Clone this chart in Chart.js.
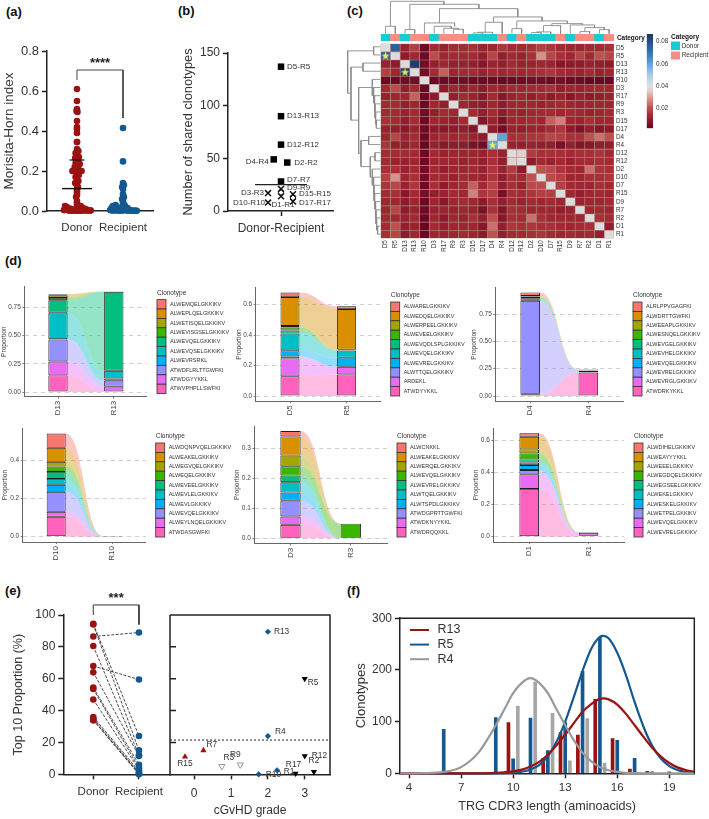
<!DOCTYPE html>
<html>
<head>
<meta charset="utf-8">
<title>TRG clonotype sharing between donors and recipients</title>
<script src="https://cdn.jsdelivr.net/npm/chart.js@4/dist/chart.umd.min.js"></script>
<style>
  html, body { margin: 0; padding: 0; background: #fff; }
  #page { position: relative; width: 709px; height: 819px; overflow: hidden; }
  canvas { position: absolute; }
  .tag { position: absolute; font: bold 13px 'Liberation Sans', Arial, sans-serif; color: #111; line-height: 14px; }
</style>
</head>
<body>
<div id="page">
  <div class="tag" style="left:6px;top:5px">(a)</div>
  <div class="tag" style="left:178px;top:4px">(b)</div>
  <div class="tag" style="left:347px;top:4px">(c)</div>
  <div class="tag" style="left:5px;top:254px">(d)</div>
  <div class="tag" style="left:5px;top:584px">(e)</div>
  <div class="tag" style="left:347px;top:584px">(f)</div>
</div>
<script>
/* ---------- panel (a): Morisita-Horn index ---------- */
const mhCategories = ['Donor', 'Recipient'];
const mhDonorX = [1,1,1,.99,1.01,1,1,1,1,1,1,1,1.03,.97,1,1.04,.96,1,1.03,.97,1.06,1,.95,1.03,.97,.90,1.10,1,1.04,.97,1,1.03,.96,1,1.02,1,1,1,1,.98,1,1,1,
  .72,.74,.76,.78,.72,.80,.84,.86,.88,.92,.94,.97,1.02,1.05,1.08,1.08,1.1,1.14,1.16,1.18,1.2,1.22,1.25,1.28,1.3,.82,.9,1.12,1.04,1.0];
const mhDonorY = [.61,.55,.51,.50,.495,.45,.42,.41,.39,.345,.345,.31,.30,.29,.28,.27,.265,.26,.25,.24,.235,.23,.22,.21,.205,.20,.20,.19,.18,.17,.16,.15,.14,.13,.12,.11,.10,.09,.08,.07,.05,.04,.03,
  .005,.025,.015,.02,.005,.005,.012,.002,.01,.003,.005,.002,.003,.01,.025,.002,.018,.006,.012,.002,.008,.003,.004,.003,.002,.002,.002,.002,.002,.002];
const mhRecipientX = [2,2,2,2.02,1.98,2,2,2.02,1.98,2,2,2.03,
  1.72,1.75,1.78,1.8,1.84,1.86,1.9,1.93,1.96,2.04,2.06,2.1,2.13,2.16,2.2,2.24,2.27,2.3,1.76,1.82,1.88,1.94,2.0,2.0,2.08,2.14];
const mhRecipientY = [.415,.248,.14,.13,.12,.11,.085,.07,.06,.05,.04,.03,
  .005,.015,.025,.02,.03,.012,.005,.002,.018,.025,.008,.015,.004,.003,.002,.001,.002,.001,.002,.002,.002,.002,.002,.012,.002,.002];
const mhMean = 0.112, mhSpread = 0.255;

/* ---------- panel (b): shared clonotypes per pair ---------- */
const sharedHighPairs = ['D5-R5','D13-R13','D12-R12','D4-R4','D2-R2','D7-R7'];
const sharedHighX = [1,1,1,.93,1.06,1];
const sharedHighY = [137,90,63,49,46,28];
const sharedLowPairs = ['D9-R9','D3-R3','D1-R1','D15-R15','D17-R17','D10-R10'];
const sharedLowX = [1,.875,1,1.115,1.115,.875];
const sharedLowY = [21,17,14,16,9,8];
const sharedOpenX = [1,1.115];
const sharedOpenY = [17.5,12.5];
const sharedMean = 25;

/* ---------- panel (c): clustered overlap heatmap ---------- */
const heatLabels = ['D5','R5','D13','R13','R10','D3','R17','R9','R3','D15','D17','D4','R4','D12','R12','D2','D10','D7','R15','D9','R7','R2','D1','R1'];
const heatGroups = ['D','R','D','R','R','D','R','R','R','D','D','D','R','D','R','D','D','D','R','D','R','R','D','R'];
/* upper triangle per row, in units of 0.001 */
const heatUpper = [
  [75,11,17,3,13,11,13,13,14,11,12,15,13,13,14,17,15,13,12,12,13,13,14],
  [9,12,3,19,12,13,13,13,10,18,10,13,11,14,28,18,14,12,18,13,20,18],
  [85,4,10,12,10,11,10,8,11,10,13,11,11,12,11,8,9,9,11,10,9],
  [4,13,22,12,13,13,11,13,12,13,12,13,14,15,13,12,11,13,11,12],
  [2,3,3,4,3,3,3,2,3,3,4,4,3,5,3,3,2,2,2],
  [9,12,10,12,9,12,11,13,12,13,13,14,10,12,11,12,13,12],
  [10,13,11,8,13,8,11,12,10,12,9,11,8,11,9,10,11],
  [12,10,9,12,9,12,12,12,11,12,13,12,11,12,12,12],
  [13,10,13,9,12,11,12,13,13,12,13,12,11,12,13],
  [7,11,6,12,12,13,12,22,26,12,11,14,12,12],
  [9,4,11,10,11,11,13,15,9,6,10,8,9],
  [60,14,14,15,15,18,17,14,14,20,24,20],
  [11,10,11,10,10,5,10,7,8,10,10],
  [36,16,14,14,14,13,14,14,15,13],
  [9,13,11,13,11,13,13,14,13],
  [20,19,15,13,12,24,15,14],
  [19,17,12,12,14,14,15],
  [17,13,12,12,14,13],
  [12,10,12,13,12],
  [11,12,12,13],
  [12,13,12],
  [14,13],
  [10]
];
const heatTicks = [0.02,0.04,0.06,0.08];
const heatStarCols = ['D5','D13','D4'];
const heatStarRows = [1,3,12];
/* dendrogram merges: first child position, its height, second child position, its height, merge height */
const topMerges = [
  [.5,0,1.5,0,22],[2.5,0,3.5,0,12],[7.5,0,8.5,0,13],[6.5,0,8,13,16],[5.5,0,7.25,16,22],[4.5,0,7.6,22,32],
  [9.5,0,10.5,0,2],[10,2,11.5,0,4],[10.75,4,12.5,0,34],[13.5,0,14.5,0,15],[15.5,0,16.5,0,3],[16,3,17.5,0,5],
  [16.75,5,18.5,0,24],[20.5,0,21.5,0,6],[22.5,0,23.5,0,12],[21,6,23,12,18],[19.5,0,22,18,26],[17.6,24,20.75,26,30],
  [14,15,19.2,30,38],[11.6,34,16.6,38,50],[6.05,32,14.1,50,75],[3,12,10.1,75,88],[1,22,6.5,88,97]
];
const sideMerges = [
  [.5,0,1.5,0,20],[2.5,0,3.5,0,52],[9.5,0,10.5,0,12],[8.5,0,10,12,14],[7.5,0,9.25,14,16],[6.5,0,8.4,16,18],
  [5.5,0,7.4,18,20],[4.5,0,6.5,20,24],[22.5,0,23.5,0,8],[21.5,0,23,8,11],[20.5,0,22.25,11,13],[19.5,0,21.4,13,15],
  [18.5,0,20.4,15,17],[17.5,0,19.4,17,19],[16.5,0,18.5,19,21],[15.5,0,17.5,21,24],[13.5,0,14.5,0,16],[14,16,16.5,24,30],
  [11.5,0,12.5,0,35],[12,35,15.2,30,58],[5.5,24,13.6,58,65],[3,52,9.5,65,88],[1,20,6.2,88,98]
];

/* ---------- panel (d): top clonotypes, listed top of stack first ---------- */
const clonotypesD13 = ['ALWEMQELGKKIKV','ALWEPLQELGKKIKV','ALWETISQELGKKIKV','ALWEVISGSELGKKIKV','ALWEVQELGKKIKV','ALWEVQSELGKKIKV','ALWEVRSRKL','ATWDFLRLTTGWFKI','ATWDGYYKKL','ATWVPHPLLSWFKI'];
const valuesD13 = [.005,.01,.02,.02,.11,.235,.003,.195,.123,.147];
const valuesR13 = [0,.002,0,0,.70,.068,.02,.053,.047,0];
const clonotypesD5 = ['ALWARELGKKIKV','ALWEDQELGKKIKV','ALWERPEELGKKIKV','ALWEVEELGKKIKV','ALWEVQDLSPLGKKIKV','ALWEVQELGKKIKV','ALWEVRELGKKIKV','ALWTTQELGKKIKV','ARDEKL','ATWDYYKKL'];
const valuesD5 = [.03,.19,.01,.02,.02,.11,.04,.013,.118,.129];
const valuesR5 = [.018,.267,.002,.002,.002,.046,.06,0,.05,.142];
const clonotypesD4 = ['ALRLPPVGAGFKI','ALWDRTTGWFKI','ALWEEAPLGKKIKV','ALWESNQELGKKIKV','ALWEVGELGKKIKV','ALWEVHELGKKIKV','ALWEVQELGKKIKV','ALWEVRELGKKIKV','ALWEVRGLGKKIKV','ATWDRKYKKL'];
const valuesD4 = [.033,.005,.005,.01,.01,.01,.005,.85,.005,.015];
const valuesR4 = [.002,.002,.002,.002,.002,.002,.002,.015,.002,.213];
const clonotypesD10 = ['ALWDQNPVQELGKKIKV','ALWEAKELGKKIKV','ALWEGVQELGKKIKV','ALWEQELGKKIKV','ALWEVEELGKKIKV','ALWEVLELGKKIKV','ALWEVLGKKIKV','ALWEVQELGKKIKV','ALWEYLNQELGKKIKV','ATWDASGWFKI'];
const valuesD10 = [.075,.074,.025,.028,.037,.031,.037,.105,.026,.105];
const valuesR10 = [.0004,.0004,.0004,.0004,.0004,.0004,.0004,.0004,.0004,.0004];
const clonotypesD3 = ['ALWCNKKL','ALWEAKELGKKIKV','ALWERQELGKKIKV','ALWEVQELGKKIKV','ALWEVRELGKKIKV','ALWTQELGKKIKV','ALWTSPDLGKKIKV','ATWDGPRTTGWFKI','ATWDKNYYKKL','ATWDRQQKKL'];
const valuesD3 = [.018,.064,.036,.031,.022,.035,.027,.053,.028,.045];
const valuesR3 = [0,0,0,.049,0,0,0,0,0,0];
const clonotypesD1 = ['ALWDIHELGKKIKV','ALWEAYYYKKL','ALWEEELGKKIKV','ALWEGDQELGKKIKV','ALWEGSEELGKKIKV','ALWEKELGKKIKV','ALWESKELGKKIKV','ALWETPELGKKIKV','ALWEVQELGKKIKV','ALWEVRELGKKIKV'];
const valuesD1 = [.021,.079,.025,.037,.02,.015,.031,.027,.091,.297];
const valuesR1 = [.0005,.0005,.0005,.0005,.0005,.0005,.001,.002,.018,.006];

/* ---------- panel (e): top-10 proportion ---------- */
const topCategories = ['Donor', 'Recipient'];
const topDonor = [94.5,94,86.5,80.5,68,64,54.5,53.5,47,36,35,34,34];
const topRecipient = [24,15,89,12,59.5,11.5,6,4,3,2,1,.5,0];
const gradeLabelsBlue = ['R13','R4','R1','R10'];
const gradeBlueX = [2,2,2.25,1.75];
const gradeBlueY = [89.5,24,2.5,0];
const gradeLabelsBlack = ['R5','R12','R2','R17'];
const gradeBlackX = [3,3,3.25,2.75];
const gradeBlackY = [60,11.5,1.5,.5];
const gradeLabelsRed = ['R15','R7'];
const gradeRedX = [-.25,.25];
const gradeRedY = [11,15];
const gradeLabelsGray = ['R3','R9'];
const gradeGrayX = [.75,1.25];
const gradeGrayY = [5,6];
const gradeThreshold = 21.5;

/* ---------- panel (f): CDR3 length spectra ---------- */
const spectrumNames = ['R13','R5','R4'];
const lengthsR13 = [9.73,11.73,12.73,13.73,14.73,15.73,16.73,17.73];
const countsR13 = [98,29,79,74,143,67,8,4];
const lengthsR5 = [6,9,10,11,12,13,14,15,16,17,18,19];
const countsR5 = [85,108,28,107,44,98,197,263,64,29,3,3];
const lengthsR4 = [10.27,11.27,12.27,13.27,14.27,15.27];
const countsR4 = [130,177,116,24,106,20];
const curveLengths = [3.5,5,6,7,8,9,9.5,10,10.5,11,11.5,12,12.5,13,13.5,14,14.5,15,15.2,15.5,16,16.5,17,17.5,18,18.5,19,19.5,20,20.44];
const curveR13 = [0,0,0,0,0,1,2,3.7,7,13,22,36,54,75,97,119,134,144,145,143,133,115,93,71,50,33,20,11,6,3];
const curveR5 = [0,0,0,0,0,0,.3,1.1,3,7.5,16,33,61,100,148,198,241,264,266,261,233,190,138,91,54,29,14,6,2.5,1];
const curveR4 = [0,.3,2.6,12,40,93,124,155,175,184,175,155,124,93,64,40,23,12,9,6,2.6,1,.4,0,0,0,0,0,0,0];

/* ---------- shared helpers ---------- */
const FONT = "'Liberation Sans', Arial, sans-serif";
const RED = '#9c1212', BLUE = '#14588f', INK = '#222';
const HUES = ['#F8766D','#D89000','#A3A500','#39B600','#00BF7D','#00BFC4','#00B0F6','#9590FF','#E76BF3','#FF62BC'];
const page = document.getElementById('page');
const zip = (xs, ys) => xs.map((x, i) => ({ x, y: ys[i] }));

/* hooks: under and scaled draw in scale pixels, over draws in page pixels */
function makeChart(cv, plot, config, hooks) {
  const c = document.createElement('canvas');
  c.width = cv.w; c.height = cv.h;
  c.style.left = cv.x + 'px'; c.style.top = cv.y + 'px';
  c.style.width = cv.w + 'px'; c.style.height = cv.h + 'px';
  page.appendChild(c);
  const sides = { left: false, right: false, bottom: false };
  for (const [id, s] of Object.entries(config.options.scales)) {
    if (s.display === false) continue;
    const side = s.position || (id.startsWith('x') ? 'bottom' : 'left');
    sides[side] = true;
    if (side === 'left') s.afterFit = a => { a.width = plot.l - cv.x; };
    if (side === 'right') s.afterFit = a => { a.width = cv.x + cv.w - plot.r; };
    if (side === 'bottom') s.afterFit = a => { a.height = cv.y + cv.h - plot.b; };
  }
  config.options = Object.assign({
    responsive: false, animation: false, events: [],
    layout: { padding: {
      left: sides.left ? 0 : plot.l - cv.x,
      right: sides.right ? 0 : cv.x + cv.w - plot.r,
      top: plot.t - cv.y,
      bottom: sides.bottom ? 0 : cv.y + cv.h - plot.b
    } }
  }, config.options);
  config.options.plugins = { legend: { display: false }, tooltip: { enabled: false } };
  hooks = hooks || {};
  config.plugins = [{
    id: 'pageLayer',
    beforeDatasetsDraw(chart) { if (hooks.under) hooks.under(chart.ctx, chart); },
    afterDraw(chart) {
      const ctx = chart.ctx;
      if (hooks.scaled) hooks.scaled(ctx, chart);
      if (hooks.over) { ctx.save(); ctx.translate(-cv.x, -cv.y); hooks.over(ctx, chart); ctx.restore(); }
    }
  }];
  return new Chart(c, config);
}

function axisOf(o) {
  const color = o.color || INK, bw = o.bw === undefined ? 1.5 : o.bw;
  const s = {
    type: 'linear', min: o.min, max: o.max, offset: false, reverse: !!o.reverse,
    grid: {
      offset: false, drawOnChartArea: !!o.gridColor, color: o.gridColor || color,
      drawTicks: o.tick !== 0, tickLength: o.tick === undefined ? 5 : o.tick,
      tickColor: color, tickWidth: o.tw || bw
    },
    border: { display: true, color, width: bw, dash: o.dash },
    ticks: {
      font: { family: FONT, size: o.size || 12 }, color: o.textColor || '#333',
      padding: o.pad === undefined ? 3 : o.pad, autoSkip: false,
      minRotation: o.rot || 0, maxRotation: o.rot || 0,
      callback: v => (o.fmt ? o.fmt(v) : v)
    },
    afterBuildTicks: a => { a.ticks = (o.ticks || []).map(v => ({ value: v })); }
  };
  if (o.position) s.position = o.position;
  if (o.title) s.title = {
    display: true, text: o.title, color: o.titleColor || '#333',
    font: { family: FONT, size: o.titleSize || 12.5 },
    padding: { top: o.titlePad || 0, bottom: o.titlePad || 0 }
  };
  return s;
}

function text(ctx, str, x, y, size, opts) {
  opts = opts || {};
  ctx.font = (opts.bold ? 'bold ' : '') + size + 'px ' + FONT;
  ctx.fillStyle = opts.color || '#333';
  ctx.textAlign = opts.align || 'left';
  ctx.textBaseline = 'middle';
  ctx.fillText(str, x, y);
}

function notes(ctx, chart, items, size) {
  const sx = chart.scales.x, sy = chart.scales.y;
  items.forEach(n => text(ctx, n.t, sx.getPixelForValue(n.x) + (n.dx || 0), sy.getPixelForValue(n.y) + (n.dy || 0), size, { align: n.align }));
}

function frame(ctx, chart, lw) {
  const a = chart.chartArea;
  ctx.strokeStyle = INK; ctx.lineWidth = lw;
  ctx.beginPath();
  ctx.moveTo(a.left, a.top); ctx.lineTo(a.right, a.top); ctx.lineTo(a.right, a.bottom);
  ctx.stroke();
}

const guide = (points, color, width, dash) => ({
  type: 'scatter', data: points, showLine: true, pointRadius: 0, clip: false,
  borderColor: color || INK, borderWidth: width || 1.2, borderDash: dash || [], order: -2
});

/* ---------- (a) ---------- */
makeChart({ x: 0, y: 35, w: 170, h: 210 }, { l: 47, r: 153, t: 51, b: 211 }, {
  type: 'scatter',
  data: { datasets: [
    guide([{x:1,y:.655},{x:1,y:.705},{x:2,y:.705},{x:2,y:.465}], '#444', 1),
    guide([{x:.674,y:mhMean},{x:1.326,y:mhMean}], '#111', 1.4),
    guide([{x:.837,y:mhSpread},{x:1.163,y:mhSpread}], '#111', 1.2),
    { data: zip(mhDonorX, mhDonorY), backgroundColor: RED, borderWidth: 0, pointRadius: 3.3, clip: false },
    { data: zip(mhRecipientX, mhRecipientY), backgroundColor: BLUE, borderWidth: 0, pointRadius: 3.3, clip: false }
  ] },
  options: { scales: {
    x: axisOf({ min: .348, max: 2.652, ticks: [1, 2], fmt: v => mhCategories[v - 1], size: 11.5, tick: 0, pad: 10 }),
    y: axisOf({ min: 0, max: .8, ticks: [0,.2,.4,.6,.8], fmt: v => v.toFixed(1), size: 13, title: 'Morisita-Horn index', titleSize: 13.5, titlePad: 1 })
  } }
}, { scaled: (ctx, chart) => {
  text(ctx, '****', chart.scales.x.getPixelForValue(1.5), chart.scales.y.getPixelForValue(.74), 13, { align: 'center', bold: true, color: '#222' });
} });

/* ---------- (b) ---------- */
const bNotes = [
  { t: 'D5-R5', x: 1, y: 137, dx: 6 }, { t: 'D13-R13', x: 1, y: 90, dx: 6 }, { t: 'D12-R12', x: 1, y: 63, dx: 6 },
  { t: 'D4-R4', x: .93, y: 49, dx: -5, dy: 2, align: 'right' }, { t: 'D2-R2', x: 1.06, y: 46, dx: 7 },
  { t: 'D7-R7', x: 1, y: 28, dx: 6, dy: -2 }, { t: 'D9-R9', x: 1, y: 21, dx: 6, dy: -1.5 },
  { t: 'D3-R3', x: .875, y: 17, dx: -4, align: 'right' }, { t: 'D10-R10', x: .875, y: 8, dx: -3, align: 'right' },
  { t: 'D1-R1', x: 1, y: 14, dx: 2, dy: 9, align: 'center' }, { t: 'D15-R15', x: 1.115, y: 16, dx: 6 }, { t: 'D17-R17', x: 1.115, y: 9, dx: 6, dy: 1 }
];
makeChart({ x: 172, y: 35, w: 170, h: 210 }, { l: 228, r: 333, t: 53, b: 211 }, {
  type: 'scatter',
  data: { datasets: [
    guide([{x:.75,y:sharedMean},{x:1.25,y:sharedMean}], '#222', 1.3),
    { data: zip(sharedHighX, sharedHighY), pointStyle: 'rect', pointRadius: 4.6, backgroundColor: '#000', borderWidth: 0, clip: false },
    { data: zip(sharedLowX, sharedLowY), pointStyle: 'crossRot', pointRadius: 4.2, borderColor: '#111', borderWidth: 1.5, clip: false },
    { data: zip(sharedOpenX, sharedOpenY), pointStyle: 'circle', pointRadius: 2.6, borderColor: '#111', backgroundColor: 'rgba(0,0,0,0)', borderWidth: 1, clip: false }
  ] },
  options: { scales: {
    x: axisOf({ min: .49, max: 1.5, ticks: [1], fmt: () => 'Donor-Recipient', size: 12, pad: 5 }),
    y: axisOf({ min: 0, max: 150, ticks: [0,50,100,150], size: 12, title: 'Number of shared clonotypes', titleSize: 12.8, titlePad: 9 })
  } }
}, { scaled: (ctx, chart) => notes(ctx, chart, bNotes, 8) });

/* ---------- (c) ---------- */
const heatMatrix = heatLabels.map(() => heatLabels.map(() => null));
heatUpper.forEach((row, i) => row.forEach((v, k) => {
  heatMatrix[i][i + 1 + k] = v / 1000;
  heatMatrix[i + 1 + k][i] = v / 1000;
}));
const heatStops = [[.0016,'#650724'],[.008,'#881729'],[.013,'#a22a32'],[.02,'#bd514e'],[.028,'#d6918d'],[.036,'#e0d0ce'],[.04,'#e0e0e0'],[.05,'#a9cbe6'],[.06,'#62a3d9'],[.07,'#3874ae'],[.087,'#1b3568']];
const rgb = h => [1, 3, 5].map(i => parseInt(h.substr(i, 2), 16));
function heatColor(v) {
  if (v === null) return '#dcdcdc';
  for (let i = 1; i < heatStops.length; i++) {
    if (v <= heatStops[i][0]) {
      const [a, ca] = heatStops[i - 1], [b, cb] = heatStops[i];
      const t = Math.max(0, (v - a) / (b - a)), p = rgb(ca), q = rgb(cb);
      return 'rgb(' + p.map((c, k) => Math.round(c + (q[k] - c) * t)).join(',') + ')';
    }
  }
  return heatStops[heatStops.length - 1][1];
}
function starIcon() {
  const c = document.createElement('canvas');
  c.width = 9; c.height = 9;
  const g = c.getContext('2d');
  g.fillStyle = '#e6ee52';
  g.beginPath();
  for (let i = 0; i < 10; i++) {
    const r = i % 2 ? 1.8 : 4.4, a = -Math.PI / 2 + i * Math.PI / 5;
    g.lineTo(4.5 + r * Math.cos(a), 4.8 + r * Math.sin(a));
  }
  g.closePath(); g.fill();
  return c;
}
const heatPlot = { l: 380.7, r: 614, t: 42.7, b: 238.3 };
const heatDatasets = heatMatrix.map(row => ({
  data: heatLabels.map(() => 1),
  backgroundColor: row.map(heatColor),
  borderColor: 'rgba(180,140,140,.45)', borderWidth: .3, borderSkipped: false, inflateAmount: 0,
  barPercentage: 1, categoryPercentage: 1
}));
heatDatasets.push({
  type: 'scatter', order: -1, clip: false,
  data: heatStarCols.map((c, i) => ({ x: c, y: heatStarRows[i] + .5 })),
  pointStyle: starIcon(), pointRadius: 4.5
});
makeChart({ x: 375, y: 38, w: 265, h: 222 }, heatPlot, {
  type: 'bar',
  data: { labels: heatLabels, datasets: heatDatasets },
  options: { scales: {
    x: {
      type: 'category', stacked: true, offset: true,
      grid: { display: false, drawTicks: false, tickLength: 0 }, border: { display: false },
      ticks: { font: { family: FONT, size: 6.3 }, color: '#333', padding: 2, autoSkip: false, minRotation: 90, maxRotation: 90 }
    },
    y: { type: 'linear', stacked: true, reverse: true, min: 0, max: 24, display: false },
    rows: {
      type: 'category', labels: heatLabels, position: 'right', offset: true,
      grid: { display: false, drawTicks: false, tickLength: 0 }, border: { display: false },
      ticks: { font: { family: FONT, size: 6.3 }, color: '#333', padding: 2, autoSkip: false }
    }
  } }
}, { under: (ctx, chart) => {
  /* muted backing so the seams between cells stay soft */
  const a = chart.chartArea;
  ctx.fillStyle = '#b58a88';
  ctx.fillRect(a.left, a.top, a.right - a.left, a.bottom - a.top);
} });

makeChart({ x: 375, y: 30, w: 271, h: 14 }, { l: 380.7, r: 614, t: 34, b: 41 }, {
  type: 'bar',
  data: { labels: heatLabels, datasets: [{
    data: heatLabels.map(() => 1),
    backgroundColor: heatGroups.map(g => (g === 'D' ? '#14cdd4' : '#f78e82')),
    barPercentage: 1, categoryPercentage: 1, borderWidth: 0
  }] },
  options: { scales: {
    x: { type: 'category', display: false, offset: true },
    y: { type: 'linear', min: 0, max: 1, display: false }
  } }
}, { over: ctx => text(ctx, 'Category', 617, 38, 6.4, { bold: true, color: '#111' }) });

/* a merge draws as a U shape through the library's scales */
function mergePath(merges, flip) {
  const pts = [];
  const add = (pos, h) => pts.push(flip ? { x: h, y: pos } : { x: pos, y: h });
  merges.forEach(([a, ha, b, hb, h]) => {
    add(a, ha); add(a, h); add(b, h); add(b, hb);
    pts.push({ x: NaN, y: NaN });
  });
  return pts;
}
const dendroSet = pts => ({ data: pts, showLine: true, spanGaps: false, pointRadius: 0, borderColor: '#8a8a8a', borderWidth: .9, clip: false });
makeChart({ x: 375, y: 0, w: 245, h: 34 }, { l: 380.7, r: 614, t: 0.3, b: 33.6 }, {
  type: 'scatter',
  data: { datasets: [dendroSet(mergePath(topMerges, false))] },
  options: { scales: {
    x: { type: 'linear', min: 0, max: 24, display: false },
    y: { type: 'linear', min: 0, max: 100, display: false }
  } }
});
makeChart({ x: 344, y: 40, w: 37, h: 202 }, { l: 345, r: 380.3, t: 42.7, b: 238.3 }, {
  type: 'scatter',
  data: { datasets: [dendroSet(mergePath(sideMerges, true))] },
  options: { scales: {
    x: { type: 'linear', min: 0, max: 106, reverse: true, display: false },
    y: { type: 'linear', min: 0, max: 24, reverse: true, display: false }
  } }
});

makeChart({ x: 640, y: 26, w: 69, h: 110 }, { l: 646.7, r: 653, t: 34, b: 128.3 }, {
  type: 'bar',
  data: { labels: [''], datasets: [{
    data: [[.0016, .087]], barPercentage: 1, categoryPercentage: 1, borderWidth: 0,
    backgroundColor: ctx => {
      const a = ctx.chart.chartArea;
      if (!a) return '#a22a32';
      const g = ctx.chart.ctx.createLinearGradient(0, a.bottom, 0, a.top);
      heatStops.forEach(([v, c]) => g.addColorStop((v - .0016) / (.087 - .0016), c));
      return g;
    }
  }] },
  options: { scales: {
    x: { type: 'category', display: false, offset: true },
    y: axisOf({ min: .0016, max: .087, position: 'right', ticks: heatTicks, fmt: v => v.toFixed(2), size: 6.3, bw: 0, tick: 0, pad: 3 })
  } }
}, { over: ctx => {
  text(ctx, 'Category', 671, 37, 6.5, { bold: true, color: '#111' });
  ctx.fillStyle = '#14cdd4'; ctx.fillRect(671, 41.5, 9, 8.5);
  ctx.fillStyle = '#f78e82'; ctx.fillRect(671, 51.5, 9, 8);
  text(ctx, 'Donor', 681.7, 46, 6.4);
  text(ctx, 'Recipient', 681.7, 55, 6.4);
} });

/* ---------- (d) ---------- */
const alluvia = [
  { cv: { x: 0, y: 278, w: 236, h: 142 }, plot: { l: 24.3, r: 146.7, t: 286.7, b: 396.7 }, zero: 392, unit: 112.9, c1: 58, c2: 113.8, bar: 19.3,
    ticks: [0,.25,.5,.75], digits: 2, names: ['D13','R13'], a: valuesD13, b: valuesR13, legendNames: clonotypesD13, lx: 157, ly: 293.3 },
  { cv: { x: 235, y: 278, w: 236, h: 142 }, plot: { l: 255.7, r: 380.7, t: 287.7, b: 401.3 }, zero: 396, unit: 152.2, c1: 290, c2: 346.6, bar: 19,
    ticks: [0,.2,.4,.6], digits: 1, names: ['D5','R5'], a: valuesD5, b: valuesR5, legendNames: clonotypesD5, lx: 390.7, ly: 295.7 },
  { cv: { x: 470, y: 278, w: 239, h: 142 }, plot: { l: 495.3, r: 623, t: 287.7, b: 401.3 }, zero: 396, unit: 109.3, c1: 530.2, c2: 588.3, bar: 19.6,
    ticks: [0,.25,.5,.75], digits: 2, names: ['D4','R4'], a: valuesD4, b: valuesR4, legendNames: clonotypesD4, lx: 633, ly: 295.7 },
  { cv: { x: 1, y: 420, w: 232, h: 142 }, plot: { l: 22.7, r: 145.7, t: 428.3, b: 542 }, zero: 536.7, unit: 190, c1: 56.2, c2: 112.2, bar: 19,
    ticks: [0,.2,.4], digits: 1, names: ['D10','R10'], a: valuesD10, b: valuesR10, legendNames: clonotypesD10, lx: 155.7, ly: 436.7 },
  { cv: { x: 233, y: 420, w: 238, h: 142 }, plot: { l: 254.3, r: 387.3, t: 426, b: 543.7 }, zero: 538.3, unit: 298.7, c1: 290.5, c2: 350.8, bar: 20.3,
    ticks: [0,.1,.2,.3], digits: 1, names: ['D3','R3'], a: valuesD3, b: valuesR3, legendNames: clonotypesD3, lx: 397, ly: 436.7 },
  { cv: { x: 472, y: 420, w: 237, h: 142 }, plot: { l: 493.3, r: 624, t: 428.3, b: 542 }, zero: 536.7, unit: 160.7, c1: 529.2, c2: 588.5, bar: 19.6,
    ticks: [0,.2,.4,.6], digits: 1, names: ['D1','R1'], a: valuesD1, b: valuesR1, legendNames: clonotypesD1, lx: 634, ly: 436.7 }
];

alluvia.forEach(p => {
  const xUnit = p.c2 - p.c1;
  const xMin = 1 - (p.c1 - p.plot.l) / xUnit;
  const xMax = xMin + (p.plot.r - p.plot.l) / xUnit;
  const yMin = -(p.plot.b - p.zero) / p.unit;
  const yMax = (p.zero - p.plot.t) / p.unit;
  const datasets = [];
  for (let i = p.a.length - 1; i >= 0; i--) {
    datasets.push({
      data: [{ x: 1, y: p.a[i] }, { x: 2, y: p.b[i] }],
      backgroundColor: HUES[i], borderColor: '#1c1c1c', borderWidth: .9,
      borderSkipped: false, inflateAmount: 0, barThickness: p.bar
    });
  }
  const xAxis = axisOf({ min: xMin, max: xMax, ticks: [1, 2], fmt: v => p.names[v - 1], size: 8, color: '#666', bw: 1, tick: 2, tw: .8, pad: 2, rot: 90, textColor: '#444' });
  xAxis.stacked = true;
  const yAxis = axisOf({ min: yMin, max: yMax, ticks: p.ticks, fmt: v => v.toFixed(p.digits), size: 6.5, color: '#666', bw: 1, tick: 2, tw: .8, pad: 1.5, textColor: '#444',
    gridColor: '#cfcfcf', dash: [4, 4], title: 'Proportion', titleSize: 6.6, titleColor: '#444' });
  yAxis.stacked = true;
  makeChart(p.cv, p.plot, {
    type: 'bar',
    data: { datasets },
    options: { scales: { x: xAxis, y: yAxis } }
  }, {
    under: (ctx, chart) => {
      const sx = chart.scales.x, sy = chart.scales.y;
      const xa = sx.getPixelForValue(1) + p.bar / 2, xb = sx.getPixelForValue(2) - p.bar / 2, xm = (xa + xb) / 2;
      let sumA = 0, sumB = 0;
      ctx.save();
      for (let i = p.a.length - 1; i >= 0; i--) {
        const a0 = sy.getPixelForValue(sumA), b0 = sy.getPixelForValue(sumB);
        sumA += p.a[i]; sumB += p.b[i];
        const a1 = sy.getPixelForValue(sumA), b1 = sy.getPixelForValue(sumB);
        ctx.globalAlpha = .42;
        ctx.fillStyle = HUES[i];
        ctx.beginPath();
        ctx.moveTo(xa, a1);
        ctx.bezierCurveTo(xm, a1, xm, b1, xb, b1);
        ctx.lineTo(xb, b0);
        ctx.bezierCurveTo(xm, b0, xm, a0, xa, a0);
        ctx.closePath(); ctx.fill();
      }
      ctx.restore();
    },
    over: ctx => {
      text(ctx, 'Clonotype', p.lx, p.ly, 6.5);
      p.legendNames.forEach((n, i) => {
        const y = p.ly + 11 + i * 9.4;
        ctx.fillStyle = HUES[i];
        ctx.strokeStyle = '#333'; ctx.lineWidth = .8;
        ctx.fillRect(p.lx, y - 4.7, 9, 9.4);
        ctx.strokeRect(p.lx, y - 4.7, 9, 9.4);
        text(ctx, n, p.lx + 13, y, 5.5);
      });
    }
  });
});

/* ---------- (e) left: paired top-10 proportions ---------- */
const pairSets = topDonor.map((d, i) => guide([{ x: 1, y: d }, { x: 2, y: topRecipient[i] }], '#333', .9, [3, 1.5]));
pairSets.forEach(s => { s.order = 2; });
makeChart({ x: 3, y: 588, w: 172, h: 212 }, { l: 63.3, r: 170, t: 615, b: 774.3 }, {
  type: 'scatter',
  data: { datasets: [
    ...pairSets,
    guide([{x:1,y:100},{x:1,y:106.3},{x:2,y:106.3},{x:2,y:94}], '#333', 1),
    { data: topDonor.map(v => ({ x: 1, y: v })), backgroundColor: RED, borderWidth: 0, pointRadius: 3.3, clip: false, order: 1 },
    { data: topRecipient.map(v => ({ x: 2, y: v })), backgroundColor: BLUE, borderWidth: 0, pointRadius: 3.3, clip: false, order: 1 }
  ] },
  options: { scales: {
    x: axisOf({ min: .344, max: 2.679, ticks: [1, 2], fmt: v => topCategories[v - 1], size: 11.5, pad: 6 }),
    y: axisOf({ min: 0, max: 100, ticks: [0,20,40,60,80,100], size: 12, title: 'Top 10 Proportion (%)', titleSize: 12.5, titlePad: 8 })
  } }
}, { scaled: (ctx, chart) => text(ctx, '***', chart.scales.x.getPixelForValue(1.5), chart.scales.y.getPixelForValue(110.7), 13, { align: 'center', bold: true, color: '#222' }) });

/* ---------- (e) right: proportion against cGvHD grade ---------- */
const grNotes = [
  { t: 'R13', x: 2, y: 89.5, dx: 6 }, { t: 'R5', x: 3, y: 60, dx: 3, dy: 4 }, { t: 'R4', x: 2, y: 24, dx: 7, dy: -4 },
  { t: 'R15', x: -.25, y: 11, dy: 7, align: 'center' }, { t: 'R7', x: .25, y: 15, dx: 3, dy: -6 },
  { t: 'R3', x: .75, y: 5, dx: 7, dy: -9, align: 'center' }, { t: 'R9', x: 1.25, y: 6, dx: -5, dy: -10, align: 'center' },
  { t: 'R12', x: 3, y: 11.5, dx: 7 }, { t: 'R2', x: 3.25, y: 1.5, dy: -11, align: 'center' }, { t: 'R17', x: 2.75, y: .5, dx: -2, dy: -9, align: 'center' },
  { t: 'R1', x: 2.25, y: 2.5, dx: 12, dy: 1, align: 'center' }, { t: 'R10', x: 1.75, y: 0, dx: 7 }
];
const tri = (xs, ys, color, rotation, fill) => ({
  data: zip(xs, ys), pointStyle: 'triangle', pointRadius: 3.6, pointRotation: rotation, clip: false,
  backgroundColor: fill || color, borderColor: color, borderWidth: fill ? 1 : 0
});
makeChart({ x: 165, y: 605, w: 170, h: 214 }, { l: 170, r: 330.7, t: 615, b: 774.3 }, {
  type: 'scatter',
  data: { datasets: [
    guide([{x:-.657,y:gradeThreshold},{x:3.686,y:gradeThreshold}], '#222', 1, [2, 2]),
    { data: zip(gradeBlueX, gradeBlueY), pointStyle: 'rectRot', pointRadius: 3.1, backgroundColor: BLUE, borderWidth: 0, clip: false },
    tri(gradeBlackX, gradeBlackY, '#000', 180),
    tri(gradeRedX, gradeRedY, RED, 0),
    tri(gradeGrayX, gradeGrayY, '#999', 180, '#fff')
  ] },
  options: { scales: {
    x: axisOf({ min: -.657, max: 3.686, ticks: [0,1,2,3], size: 12, pad: 7, title: 'cGvHD grade', titleSize: 12, titlePad: 1 }),
    y: { type: 'linear', min: 0, max: 100, display: false }
  } }
}, { scaled: (ctx, chart) => {
  frame(ctx, chart, 1.5);
  const a = chart.chartArea, sy = chart.scales.y;
  ctx.beginPath();
  ctx.moveTo(a.left, a.top); ctx.lineTo(a.left, a.bottom);
  [20, 40, 60, 80].forEach(v => {
    ctx.moveTo(a.left, sy.getPixelForValue(v)); ctx.lineTo(a.left + 6, sy.getPixelForValue(v));
  });
  ctx.stroke();
  notes(ctx, chart, grNotes, 8.4);
} });

/* ---------- (f) ---------- */
const spikes = (xs, ys, color) => ({
  type: 'bar', data: zip(xs, ys), backgroundColor: color, borderWidth: 0,
  barThickness: 3, grouped: false, order: 2
});
const curve = (ys, color) => ({
  type: 'line', data: zip(curveLengths, ys), borderColor: color, borderWidth: 2.2, pointRadius: 0,
  cubicInterpolationMode: 'monotone', clip: false, order: 1
});
const spectrumColors = [RED, BLUE, '#999999'];
makeChart({ x: 354, y: 608, w: 355, h: 211 }, { l: 400, r: 694.3, t: 617.7, b: 773.3 }, {
  type: 'bar',
  data: { datasets: [
    spikes(lengthsR13, countsR13, RED), spikes(lengthsR5, countsR5, BLUE), spikes(lengthsR4, countsR4, '#a6a6a6'),
    curve(curveR4, spectrumColors[2]), curve(curveR13, RED), curve(curveR5, BLUE)
  ] },
  options: { scales: {
    x: axisOf({ min: 3.48, max: 20.44, ticks: [4,7,10,13,16,19], size: 11.5, pad: 3, title: 'TRG CDR3 length (aminoacids)', titleSize: 12.6, titlePad: 5 }),
    y: axisOf({ min: 0, max: 300, ticks: [0,100,200,300], size: 12, title: 'Clonotypes', titleSize: 13, titlePad: 0 })
  } }
}, {
  scaled: (ctx, chart) => frame(ctx, chart, 1.5),
  over: ctx => {
    spectrumNames.forEach((n, i) => {
      const y = 630 + i * 14.6;
      ctx.strokeStyle = spectrumColors[i]; ctx.lineWidth = 2;
      ctx.beginPath(); ctx.moveTo(410, y); ctx.lineTo(429, y); ctx.stroke();
      text(ctx, n, 437.5, y, 12.5);
    });
  }
});
</script>
</body>
</html>
